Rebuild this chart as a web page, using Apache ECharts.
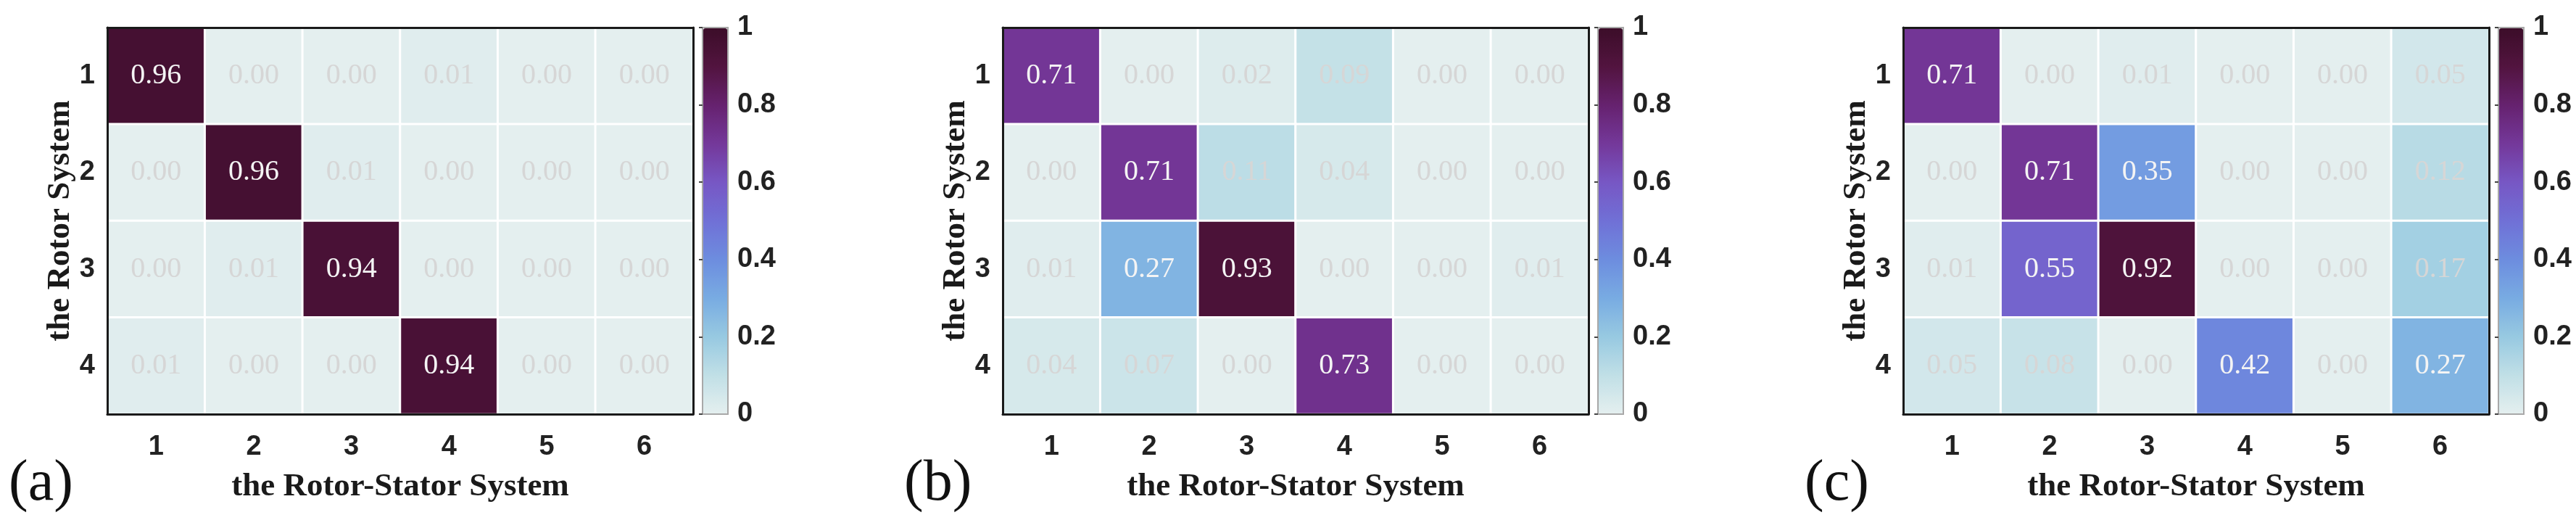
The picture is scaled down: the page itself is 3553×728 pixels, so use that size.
<!DOCTYPE html>
<html>
<head>
<meta charset="utf-8">
<title>Rotor / Rotor-Stator matching</title>
<script src="https://cdn.jsdelivr.net/npm/echarts@6/dist/echarts.min.js"></script>
<style>
  html, body { margin: 0; padding: 0; background: #fff; }
  #chart { width: 3553px; height: 728px; }
</style>
</head>
<body>
<div id="chart"></div>
<script>
// 行: the Rotor System (1..4, 上到下)  列: the Rotor-Stator System (1..6)
const rowLabels = ['1', '2', '3', '4'];
const colLabels = ['1', '2', '3', '4', '5', '6'];
const panelNames = ['(a)', '(b)', '(c)'];

const matrixA = [
    [0.96, 0.00, 0.00, 0.01, 0.00, 0.00],
    [0.00, 0.96, 0.01, 0.00, 0.00, 0.00],
    [0.00, 0.01, 0.94, 0.00, 0.00, 0.00],
    [0.01, 0.00, 0.00, 0.94, 0.00, 0.00]
];
const matrixB = [
    [0.71, 0.00, 0.02, 0.09, 0.00, 0.00],
    [0.00, 0.71, 0.11, 0.04, 0.00, 0.00],
    [0.01, 0.27, 0.93, 0.00, 0.00, 0.01],
    [0.04, 0.07, 0.00, 0.73, 0.00, 0.00]
];
const matrixC = [
    [0.71, 0.00, 0.01, 0.00, 0.00, 0.05],
    [0.00, 0.71, 0.35, 0.00, 0.00, 0.12],
    [0.01, 0.55, 0.92, 0.00, 0.00, 0.17],
    [0.05, 0.08, 0.00, 0.42, 0.00, 0.27]
];
const matrices = [matrixA, matrixB, matrixC];

// 色带 0 -> 1
const cmap = ['#e4efef', '#c0dfe6', '#97c9e1', '#78abe2', '#6d8ddf', '#7070d6',
              '#7757c4', '#74389a', '#66226f', '#52143f', '#3c0d29'];

// 布局
const plotLefts = [148, 1383, 2625];
const plotTop = 38;
const plotW = 808;
const plotH = 533;
const cbGap = 14;
const cbW = 33;

const serif = 'Liberation Serif';
const sans = 'Liberation Sans';

const grids = [], xAxes = [], yAxes = [], series = [], visualMaps = [], titles = [];

for (let p = 0; p < 3; p++) {
    const left = plotLefts[p];
    const cbLeft = left + plotW + cbGap;

    // 热力图网格
    grids.push({ left: left, top: plotTop, width: plotW, height: plotH });
    const gi = grids.length - 1;

    xAxes.push({
        type: 'category', gridIndex: gi, data: colLabels, position: 'bottom', z: 5,
        name: 'the Rotor-Stator System', nameLocation: 'middle', nameGap: 78,
        nameTextStyle: { fontFamily: serif, fontWeight: 'bold', fontSize: 45, color: '#1a1a1a' },
        axisLine: { lineStyle: { color: '#1a1a1a', width: 3 } },
        axisTick: { alignWithLabel: true, length: 5, lineStyle: { color: '#333', width: 3 } },
        axisLabel: { margin: 27, fontFamily: sans, fontWeight: 'bold', fontSize: 38, color: '#222' },
        splitLine: { show: false }
    });
    const xi = xAxes.length - 1;
    xAxes.push({
        type: 'category', gridIndex: gi, data: colLabels, position: 'top', z: 5,
        axisLine: { lineStyle: { color: '#1a1a1a', width: 3 } },
        axisTick: { alignWithLabel: true, length: 4, lineStyle: { color: '#333', width: 3 } },
        axisLabel: { show: false }
    });

    yAxes.push({
        type: 'category', gridIndex: gi, data: rowLabels, inverse: true, position: 'left', z: 5,
        name: 'the Rotor System', nameLocation: 'middle', nameGap: 40,
        nameTextStyle: { fontFamily: serif, fontWeight: 'bold', fontSize: 45, color: '#1a1a1a' },
        axisLine: { lineStyle: { color: '#1a1a1a', width: 3 } },
        axisTick: { alignWithLabel: true, length: 5, lineStyle: { color: '#333', width: 3 } },
        axisLabel: { margin: 17, fontFamily: sans, fontWeight: 'bold', fontSize: 38, color: '#222' },
        splitLine: { show: false }
    });
    const yi = yAxes.length - 1;
    yAxes.push({
        type: 'category', gridIndex: gi, data: rowLabels, inverse: true, position: 'right', z: 5,
        axisLine: { lineStyle: { color: '#1a1a1a', width: 3 } },
        axisTick: { alignWithLabel: true, length: 4, lineStyle: { color: '#333', width: 3 } },
        axisLabel: { show: false }
    });

    // 数据 [列, 行, 值]
    const data = [];
    const m = matrices[p];
    for (let r = 0; r < m.length; r++) {
        for (let c = 0; c < m[r].length; c++) {
            const v = m[r][c];
            data.push({
                value: [c, r, v],
                label: { color: v >= 0.25 ? '#f4f4f4' : '#d6d6d6' }
            });
        }
    }

    series.push({
        type: 'heatmap',
        xAxisIndex: xi,
        yAxisIndex: yi,
        data: data,
        label: {
            show: true,
            fontFamily: serif,
            fontSize: 40,
            formatter: function (params) { return params.value[2].toFixed(2); }
        },
        itemStyle: { borderColor: '#ffffff', borderWidth: 3 },
        emphasis: { disabled: true }
    });

    visualMaps.push({
        type: 'continuous',
        seriesIndex: p,
        dimension: 2,
        min: 0,
        max: 1,
        calculable: false,
        orient: 'vertical',
        left: cbLeft,
        top: plotTop + 1,
        padding: 0,
        itemWidth: cbW,
        itemHeight: plotH - 2,
        inRange: { color: cmap },
        z: 4
    });

    // 色条刻度
    grids.push({
        left: cbLeft - 1, top: plotTop, width: cbW + 2, height: plotH,
        show: true, borderColor: '#a8a8a8', borderWidth: 2, backgroundColor: 'transparent'
    });
    const cgi = grids.length - 1;
    xAxes.push({ type: 'value', gridIndex: cgi, show: false, min: 0, max: 1 });
    yAxes.push({
        type: 'value', gridIndex: cgi, position: 'right', min: 0, max: 1, interval: 0.2, z: 6,
        axisLine: { show: false },
        axisTick: { show: true, inside: true, length: 5, lineStyle: { color: '#444', width: 2 } },
        axisLabel: { margin: 13, fontFamily: sans, fontWeight: 'bold', fontSize: 38, color: '#222' },
        splitLine: { show: false }
    });

    titles.push({
        text: panelNames[p],
        left: left - 136,
        top: 628,
        padding: 0,
        textStyle: { fontFamily: serif, fontWeight: 'normal', fontSize: 80, color: '#111' }
    });
}

const chart = echarts.init(document.getElementById('chart'));
chart.setOption({
    backgroundColor: '#ffffff',
    animation: false,
    title: titles,
    grid: grids,
    xAxis: xAxes,
    yAxis: yAxes,
    visualMap: visualMaps,
    series: series
});
</script>
</body>
</html>
